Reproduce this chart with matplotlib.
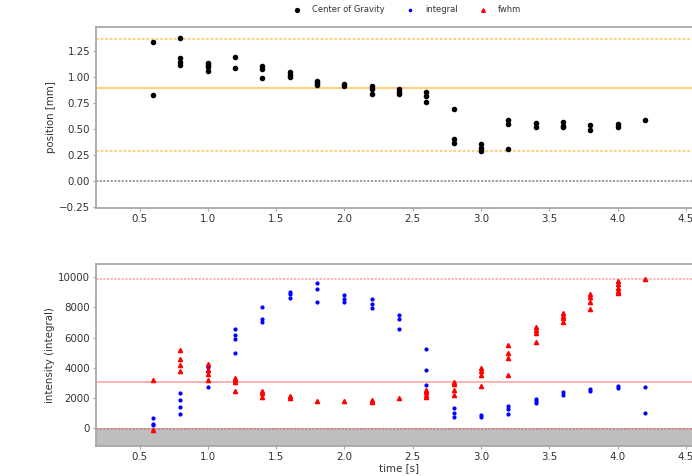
import matplotlib
matplotlib.use("Agg")
import matplotlib.pyplot as plt
from matplotlib.lines import Line2D

# ---------------- data ----------------
cog_t = [0.6, 0.6,
         0.8, 0.8, 0.8, 0.8,
         1.0, 1.0, 1.0, 1.0,
         1.2, 1.2,
         1.4, 1.4, 1.4,
         1.6, 1.6, 1.6,
         1.8, 1.8, 1.8,
         2.0, 2.0,
         2.2, 2.2, 2.2,
         2.4, 2.4, 2.4,
         2.6, 2.6, 2.6,
         2.8, 2.8, 2.8,
         3.0, 3.0, 3.0,
         3.2, 3.2, 3.2,
         3.4, 3.4,
         3.6, 3.6, 3.6,
         3.8, 3.8,
         4.0, 4.0,
         4.2]
cog_pos = [1.335, 0.83,
           1.37, 1.18, 1.145, 1.11,
           1.135, 1.115, 1.095, 1.056,
           1.19, 1.09,
           1.105, 1.08, 0.99,
           1.05, 1.02, 0.995,
           0.965, 0.945, 0.925,
           0.935, 0.915,
           0.915, 0.885, 0.838,
           0.888, 0.858, 0.836,
           0.858, 0.82, 0.762,
           0.69, 0.405, 0.366,
           0.353, 0.318, 0.285,
           0.583, 0.551, 0.309,
           0.554, 0.522,
           0.567, 0.534, 0.516,
           0.535, 0.492,
           0.548, 0.522,
           0.59]

int_t = [0.6, 0.6, 0.6,
         0.8, 0.8, 0.8, 0.8,
         1.0, 1.0, 1.0,
         1.2, 1.2, 1.2, 1.2,
         1.4, 1.4, 1.4,
         1.6, 1.6, 1.6,
         1.8, 1.8, 1.8,
         2.0, 2.0, 2.0,
         2.2, 2.2, 2.2,
         2.4, 2.4, 2.4,
         2.6, 2.6, 2.6,
         2.8, 2.8, 2.8,
         3.0, 3.0,
         3.2, 3.2, 3.2,
         3.4, 3.4, 3.4,
         3.6, 3.6,
         3.8, 3.8,
         4.0, 4.0,
         4.2, 4.2]
int_val = [660, 310, 200,
           2350, 1890, 1430, 970,
           4050, 3820, 2720,
           6550, 6170, 5910, 4960,
           8060, 7250, 7050,
           9050, 8880, 8630,
           9600, 9250, 8390,
           8810, 8570, 8350,
           8570, 8260, 7960,
           7470, 7250, 6570,
           5250, 3850, 2900,
           1380, 1030, 750,
           880, 750,
           1470, 1250, 970,
           1960, 1800, 1650,
           2400, 2220,
           2620, 2440,
           2790, 2660,
           2750, 1030]

fwhm_t = [0.6, 0.6,
          0.8, 0.8, 0.8, 0.8,
          1.0, 1.0, 1.0, 1.0,
          1.2, 1.2, 1.2, 1.2,
          1.4, 1.4, 1.4,
          1.6, 1.6,
          1.8, 2.0,
          2.2, 2.2,
          2.4,
          2.6, 2.6, 2.6, 2.6,
          2.8, 2.8, 2.8, 2.8,
          3.0, 3.0, 3.0, 3.0,
          3.2, 3.2, 3.2, 3.2,
          3.4, 3.4, 3.4, 3.4,
          3.6, 3.6, 3.6, 3.6,
          3.8, 3.8, 3.8, 3.8,
          4.0, 4.0, 4.0, 4.0, 4.0,
          4.2]
fwhm_val = [3200, -100,
            5160, 4590, 4170, 3780,
            4260, 3890, 3630, 3190,
            3300, 3180, 3050, 2500,
            2440, 2310, 2060,
            2170, 2020,
            1780, 1780,
            1860, 1740,
            1980,
            2570, 2400, 2240, 2060,
            3100, 2940, 2570, 2200,
            3980, 3800, 3520, 2810,
            5540, 4990, 4680, 3520,
            6700, 6530, 6310, 5690,
            7630, 7450, 7300, 7010,
            8880, 8720, 8330, 7910,
            9740, 9540, 9320, 9100, 8940,
            9870]

# reference levels
pos_max, pos_mean, pos_min = 1.366, 0.897, 0.286
fwhm_max, fwhm_mean, fwhm_min = 9868, 3078, -66

x_ticks = [0.5, 1.0, 1.5, 2.0, 2.5, 3.0, 3.5, 4.0, 4.5]
pos_ticks = [-0.25, 0.0, 0.25, 0.5, 0.75, 1.0, 1.25]
int_ticks = [0, 2000, 4000, 6000, 8000, 10000]

# ---------------- figure ----------------
W, H = 692, 476
fig = plt.figure(figsize=(W / 100, H / 100), dpi=100)

xmin, xmax = 0.1815, 4.62
ax_left = 96 / W
ax_w = (xmax - xmin) * 136.6 / W

ax1 = fig.add_axes([ax_left, (H - 208.3) / H, ax_w, (208.3 - 26.5) / H])
ax2 = fig.add_axes([ax_left, (H - 446.0) / H, ax_w, (446.0 - 264) / H])

fs = 7.4
tick_col = '#333333'
spine_col = '#a8a8a8'

for ax in (ax1, ax2):
    ax.set_xlim(xmin, xmax)
    ax.set_xticks(x_ticks)
    ax.tick_params(labelsize=fs, colors=tick_col, length=2.0, width=0.8, pad=2.2)
    ax.tick_params(axis='both', color=spine_col)
    for s in ax.spines.values():
        s.set_color(spine_col)
        s.set_linewidth(1.3)

dash = (0, (1.3, 0.9))

# top panel
ax1.set_ylim(-0.26, 1.484)
ax1.set_yticks(pos_ticks)
ax1.axhline(pos_max, color='orange', alpha=0.5, lw=1.5, ls=dash)
ax1.axhline(pos_mean, color='orange', alpha=0.5, lw=1.5)
ax1.axhline(pos_min, color='orange', alpha=0.5, lw=1.5, ls=dash)
ax1.axhline(0.0, color='gray', alpha=0.9, lw=1.2, ls=dash)
ax1.plot(cog_t, cog_pos, 'o', color='black', ms=3.0, ls='none')
ax1.set_ylabel('position [mm]', fontsize=fs, color=tick_col, labelpad=2)

# bottom panel
ax2.set_ylim(-1167, 10877)
ax2.set_yticks(int_ticks)
ax2.axhspan(-5000, 0, color='#bebebe', lw=0)
ax2.axhline(fwhm_max, color='red', alpha=0.35, lw=1.2, ls=dash)
ax2.axhline(fwhm_mean, color='red', alpha=0.35, lw=1.2)
ax2.axhline(fwhm_min, color='red', alpha=0.35, lw=1.2, ls=dash)
ax2.plot(int_t, int_val, 'o', color='blue', ms=2.0, ls='none')
ax2.plot(fwhm_t, fwhm_val, '^', color='red', ms=3.0, ls='none')
ax2.set_ylabel('intensity (integral)', fontsize=fs, color=tick_col, labelpad=2)
ax2.set_xlabel('time [s]', fontsize=fs, color=tick_col, labelpad=1)

handles = [
    Line2D([], [], marker='o', color='black', ls='none', ms=2.8),
    Line2D([], [], marker='o', color='blue', ls='none', ms=1.6),
    Line2D([], [], marker='^', color='red', ls='none', ms=2.6),
]
fig.legend(handles, ['Center of Gravity', 'integral', 'fwhm'],
           loc='center', bbox_to_anchor=(405 / W, 1 - 10 / H),
           ncol=3, frameon=False, fontsize=6, labelcolor=tick_col)

fig.savefig('out.png', dpi=100)
